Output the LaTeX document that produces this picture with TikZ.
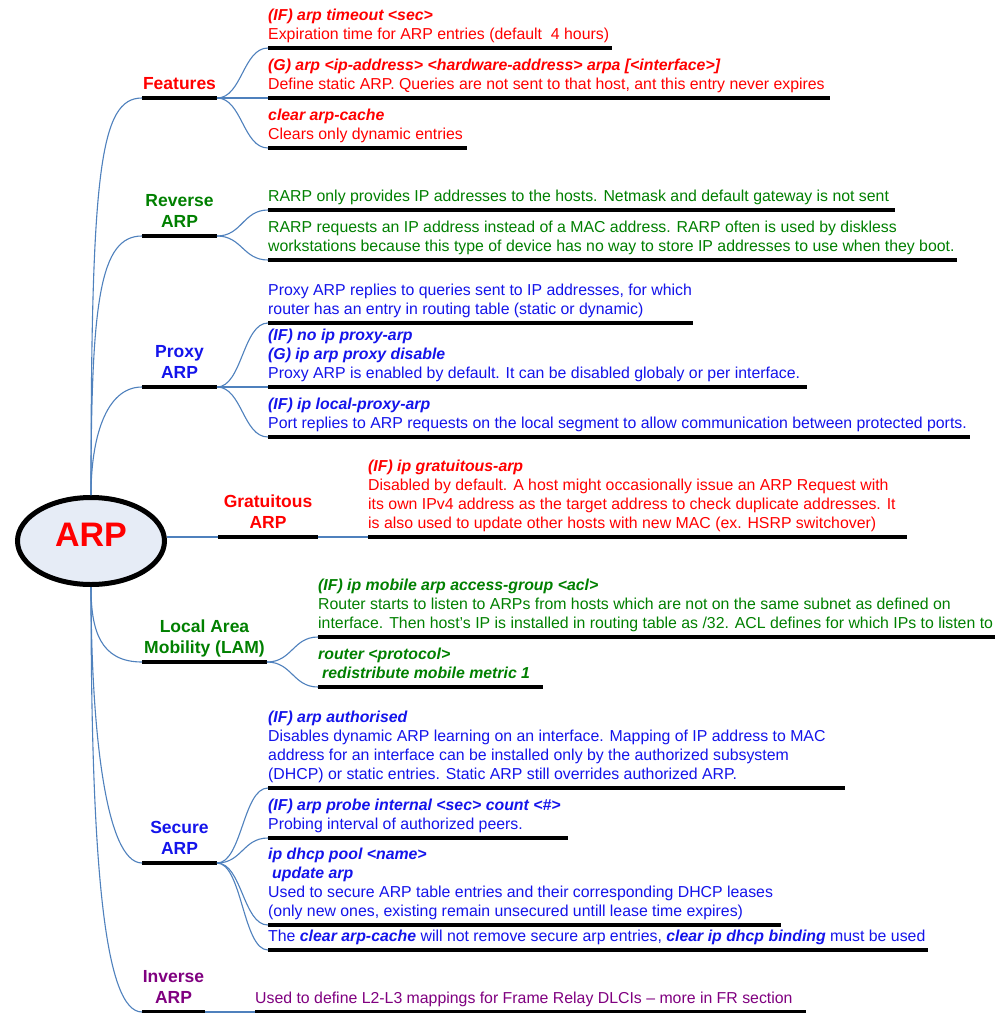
\documentclass[tikz,border=0pt]{standalone}
\usepackage{fontspec}
\setmainfont{Liberation Sans}
\usetikzlibrary{shapes.geometric}

\definecolor{cRed}{RGB}{255,0,0}
\definecolor{cGreen}{RGB}{0,128,0}
\definecolor{cBlue}{RGB}{20,20,235}
\definecolor{cPurple}{RGB}{128,0,128}
\definecolor{linkBlue}{RGB}{79,129,189}
\definecolor{ovalFill}{RGB}{230,236,246}

% bold italic for IOS commands
\newcommand\cmd[1]{\textbf{\textit{#1}}}
% black underline bar: name, x-left, x-right, y
\newcommand\barat[4]{\node[bar, minimum width={(#3-#2)*1pt}] (#1) at ({(#2+#3)/2},#4) {};}

\begin{document}
\begin{tikzpicture}[x=1pt,y=-1pt,
  bar/.style={fill=black, inner sep=0pt, outer sep=0pt, minimum height=4.5pt},
  link/.style={draw=linkBlue, line width=1.1pt},
  branch/.style={font=\fontsize{17.5}{21}\selectfont\bfseries, align=center,
    inner sep=0pt, anchor=south, execute at end node=\strut},
  leaf/.style={font=\fontsize{15.85}{19}\selectfont, align=left,
    inner sep=0pt, anchor=south west, execute at end node=\strut},
]
\fill[white] (0,0) rectangle (997,1013);
\useasboundingbox (0,0) rectangle (997,1013);

% central topic
\node[draw, ellipse, line width=5pt, fill=ovalFill, minimum width=147pt,
      minimum height=87pt, inner sep=0pt] (arp) at (91,541) {};
\node[font=\fontsize{34}{40}\selectfont\bfseries, text=cRed] (arpt) at (91,535) {ARP};

% underline bars of the main topics and sub-topics
\barat{fb}{142}{217}{98}
\barat{f1}{268}{612}{48}
\barat{f2}{268}{830}{98}
\barat{f3}{268}{467}{148}

\barat{rb}{142}{217}{236}
\barat{r1}{268}{895}{210}
\barat{r2}{268}{957}{260}

\barat{pb}{142}{217}{387}
\barat{p1}{268}{693}{323}
\barat{p2}{268}{807}{387}
\barat{p3}{268}{970}{437}

\barat{gb}{218}{318}{537}
\barat{g1}{368}{907}{537}

\barat{lb}{142}{267}{662}
\barat{l1}{318}{995}{637}
\barat{l2}{318}{543}{687}

\barat{sb}{142}{217}{863}
\barat{s1}{268}{845}{788}
\barat{s2}{268}{568}{838}
\barat{s3}{268}{781}{925}
\barat{s4}{268}{928}{950}

\barat{ib}{142}{205}{1012}
\barat{i1}{255}{806}{1012}

% trunk: central topic to main topics
\draw[link] (arp.north) .. controls +(0,-325) and +(-42,0) .. (fb.west);
\draw[link] (arp.north) .. controls +(0,-195) and +(-42,0) .. (rb.west);
\draw[link] (arp.north) .. controls +(0,-55) and +(-37,0) .. (pb.west);
\draw[link] (arp.east |- gb.west) -- (gb.west);
\draw[link] (arp.south) .. controls +(0,43) and +(-42,0) .. (lb.west);
\draw[link] (arp.south) .. controls +(0,138) and +(-37,0) .. (sb.west);
\draw[link] (arp.south) .. controls +(0,283) and +(-37,0) .. (ib.west);

% main topics to sub-topics
\foreach \a/\b in {fb/f1, fb/f2, fb/f3, rb/r1, rb/r2, pb/p1, pb/p2, pb/p3,
                   lb/l1, lb/l2, sb/s1, sb/s2, sb/s3, sb/s4}
  \draw[link] (\a.east) .. controls +(25,0) and +(-25,0) .. (\b.west);
\draw[link] (gb.east) -- (g1.west);
\draw[link] (ib.east) -- (i1.west);

% main topic labels
\node[branch, text=cRed] (fbt) at (fb.north) {Features};
\node[branch, text=cGreen] (rbt) at (rb.north) {Reverse\\ARP};
\node[branch, text=cBlue] (pbt) at (pb.north) {Proxy\\ARP};
\node[branch, text=cRed] (gbt) at (gb.north) {Gratuitous\\ARP};
\node[branch, text=cGreen] (lbt) at (lb.north) {Local Area\\Mobility (LAM)};
\node[branch, text=cBlue] (sbt) at (sb.north) {Secure\\ARP};
\node[branch, text=cPurple] (ibt) at (ib.north) {Inverse\\ARP};

% Features
\node[leaf, text=cRed] (f1t) at (f1.north west)
  {\cmd{(IF) arp timeout <sec>}\\Expiration time for ARP entries (default~ 4 hours)};
\node[leaf, text=cRed] (f2t) at (f2.north west)
  {\cmd{(G) arp <ip-address> <hardware-address> arpa [<interface>]}\\Define static ARP. Queries are not sent to that host, ant this entry never expires};
\node[leaf, text=cRed] (f3t) at (f3.north west)
  {\cmd{clear arp-cache}\\Clears only dynamic entries};

% Reverse ARP
\node[leaf, text=cGreen] (r1t) at (r1.north west)
  {RARP only provides IP addresses to the hosts. Netmask and default gateway is not sent};
\node[leaf, text=cGreen] (r2t) at (r2.north west)
  {RARP requests an IP address instead of a MAC address. RARP often is used by diskless\\workstations because this type of device has no way to store IP addresses to use when they boot.};

% Proxy ARP
\node[leaf, text=cBlue] (p1t) at (p1.north west)
  {Proxy ARP replies to queries sent to IP addresses, for which\\router has an entry in routing table (static or dynamic)};
\node[leaf, text=cBlue] (p2t) at (p2.north west)
  {\cmd{(IF) no ip proxy-arp}\\\cmd{(G) ip arp proxy disable}\\Proxy ARP is enabled by default. It can be disabled globaly or per interface.};
\node[leaf, text=cBlue] (p3t) at (p3.north west)
  {\cmd{(IF) ip local-proxy-arp}\\Port replies to ARP requests on the local segment to allow communication between protected ports.};

% Gratuitous ARP
\node[leaf, text=cRed] (g1t) at (g1.north west)
  {\cmd{(IF) ip gratuitous-arp}\\Disabled by default. A host might occasionally issue an ARP Request with\\its own IPv4 address as the target address to check duplicate addresses. It\\is also used to update other hosts with new MAC (ex. HSRP switchover)};

% Local Area Mobility
\node[leaf, text=cGreen] (l1t) at (l1.north west)
  {\cmd{(IF) ip mobile arp access-group <acl>}\\Router starts to listen to ARPs from hosts which are not on the same subnet as defined on\\interface. Then host’s IP is installed in routing table as /32. ACL defines for which IPs to listen to};
\node[leaf, text=cGreen] (l2t) at (l2.north west)
  {\cmd{router <protocol>}\\\hspace*{4pt}\cmd{redistribute mobile metric 1}};

% Secure ARP
\node[leaf, text=cBlue] (s1t) at (s1.north west)
  {\cmd{(IF) arp authorised}\\Disables dynamic ARP learning on an interface. Mapping of IP address to MAC\\address for an interface can be installed only by the authorized subsystem\\(DHCP) or static entries. Static ARP still overrides authorized ARP.};
\node[leaf, text=cBlue] (s2t) at (s2.north west)
  {\cmd{(IF) arp probe internal <sec> count <\#>}\\Probing interval of authorized peers.};
\node[leaf, text=cBlue] (s3t) at (s3.north west)
  {\cmd{ip dhcp pool <name>}\\\hspace*{4pt}\cmd{update arp}\\Used to secure ARP table entries and their corresponding DHCP leases\\(only new ones, existing remain unsecured untill lease time expires)};
\node[leaf, text=cBlue] (s4t) at (s4.north west)
  {The \cmd{clear arp-cache} will not remove secure arp entries, \cmd{clear ip dhcp binding} must be used};

% Inverse ARP
\node[leaf, text=cPurple] (i1t) at (i1.north west)
  {Used to define L2-L3 mappings for Frame Relay DLCIs – more in FR section};
\end{tikzpicture}
\end{document}
